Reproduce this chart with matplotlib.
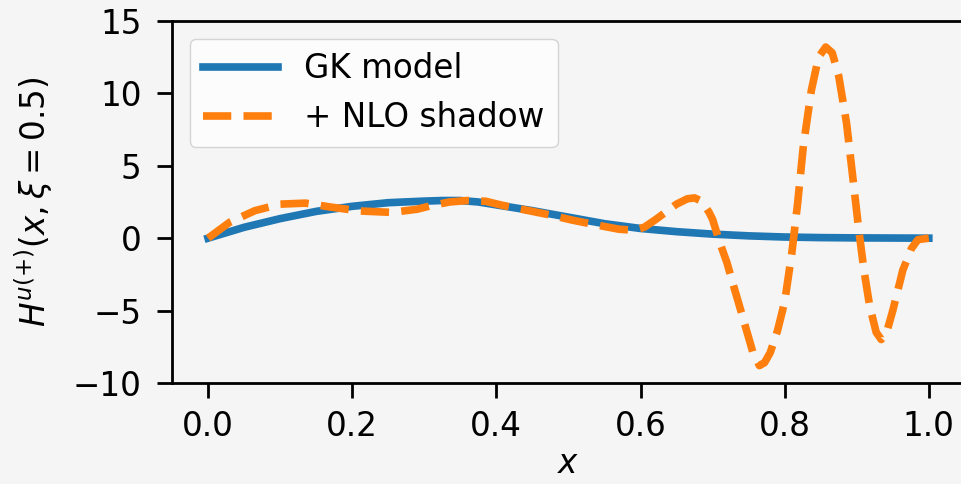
import numpy as np
import matplotlib
matplotlib.use("Agg")
import matplotlib.pyplot as plt

# GK model curve H^{u(+)}(x, xi=0.5)
x_gk = [0.0, 0.05, 0.1, 0.15, 0.2, 0.25, 0.3, 0.325, 0.35, 0.375, 0.4, 0.425,
        0.45, 0.5, 0.55, 0.6, 0.65, 0.7, 0.75, 0.8, 0.85, 0.9, 0.95, 1.0]
h_gk = [0.0, 0.75, 1.35, 1.85, 2.2, 2.45, 2.56, 2.6, 2.6, 2.5, 2.3, 2.1,
        1.9, 1.45, 1.0, 0.67, 0.45, 0.28, 0.16, 0.08, 0.04, 0.02, 0.01, 0.0]

# GK model plus NLO shadow GPD
x_sh = [0.0, 0.03, 0.065, 0.1, 0.135, 0.17, 0.21, 0.255, 0.29, 0.31, 0.335,
        0.36, 0.385, 0.41, 0.44, 0.475, 0.505, 0.54, 0.57, 0.59, 0.605, 0.62,
        0.635, 0.65, 0.665, 0.675, 0.685, 0.695, 0.70, 0.71, 0.72, 0.728,
        0.738, 0.747, 0.756, 0.765, 0.772, 0.78, 0.79, 0.80, 0.81, 0.818,
        0.826, 0.837, 0.847, 0.857, 0.866, 0.875, 0.886, 0.895, 0.903, 0.91,
        0.918, 0.927, 0.934, 0.941, 0.95, 0.964, 0.976, 0.985, 1.0]
h_sh = [0.0, 1.1, 1.9, 2.35, 2.42, 2.15, 1.88, 1.78, 2.0, 2.25, 2.5,
        2.6, 2.55, 2.25, 1.95, 1.6, 1.25, 0.9, 0.62, 0.55, 0.75, 1.25,
        1.8, 2.35, 2.72, 2.78, 2.55, 1.8, 1.3, -0.3, -1.7, -3.1,
        -4.8, -6.35, -7.9, -8.8, -8.6, -7.9, -6.4, -4.4, -1.0, 2.4,
        6.4, 10.2, 12.5, 13.2, 12.8, 11.2, 7.9, 4.0, 0.5, -2.2,
        -4.7, -6.5, -7.0, -6.6, -5.0, -2.2, -0.7, -0.1, 0.0]

bg = "#f5f5f5"
plt.rcParams["font.size"] = 23.5
fig = plt.figure(figsize=(9.61, 4.84), dpi=100, facecolor=bg)
ax = fig.add_axes([0.179, 0.2087, 0.825, 0.748], facecolor=bg)

ax.plot(x_gk, h_gk, color="#1f77b4", lw=5.5, label="GK model")
ax.plot(x_sh, h_sh, color="#ff7f0e", lw=5.5, ls="--", label="+ NLO shadow")

ax.set_xlim(-0.05, 1.05)
ax.set_ylim(-10, 15)
ax.set_xticks([0.0, 0.2, 0.4, 0.6, 0.8, 1.0])
ax.set_yticks([-10, -5, 0, 5, 10, 15])
ax.tick_params(length=10.5, width=2)
ax.tick_params(axis="x", pad=9)
ax.tick_params(axis="y", pad=11.5)
for s in ax.spines.values():
    s.set_linewidth(2)

ax.set_xlabel(r"$x$", labelpad=3)
ax.set_ylabel(r"$H^{u(+)}(x,\xi=0.5)$", labelpad=13)

ax.legend(loc="upper left", handlelength=2.3, borderaxespad=0.55)

fig.savefig("out.png", dpi=100, facecolor=bg)
